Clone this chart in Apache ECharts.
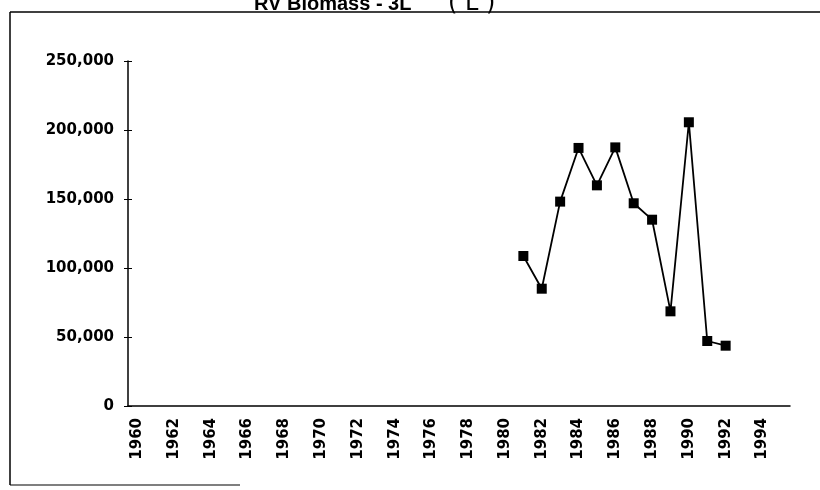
<!DOCTYPE html>
<html>
<head>
<meta charset="utf-8">
<script src="https://cdn.jsdelivr.net/npm/echarts@6/dist/echarts.min.js"></script>
<style>html,body{margin:0;padding:0;background:#fff;}#c{width:820px;height:490px;}</style>
</head>
<body>
<div id="c"></div>
<script>
var years = [];
for (var y = 1960; y <= 1995; y++) years.push(String(y));
var dataYears = ['1981','1982','1983','1984','1985','1986','1987','1988','1989','1990','1991','1992'];
var biomass = [108700, 85000, 148100, 187000, 159900, 187400, 146900, 135000, 68600, 205600, 47100, 43700];
var yTicks = [0, 50000, 100000, 150000, 200000, 250000];
var titleText = 'RV Biomass - 3L';
var noteText = '( L )';

var seriesData = years.map(function (yr) {
  var i = dataYears.indexOf(yr);
  return i >= 0 ? biomass[i] : null;
});

var chart = echarts.init(document.getElementById('c'), null, {renderer: 'canvas'});
var lbl = {fontFamily: 'DejaVu Sans', fontWeight: 'bold', fontSize: 15, color: '#000'};
chart.setOption({
  animation: false,
  backgroundColor: '#fff',
  title: [{
    text: titleText,
    left: 249, top: -11,
    textStyle: {fontFamily: 'Liberation Sans, Arial', fontWeight: 'bold', fontSize: 20, color: '#000'}
  }, {
    text: noteText,
    left: 443, top: -13,
    textStyle: {fontFamily: 'DejaVu Sans', fontWeight: 'normal', fontSize: 24, color: '#000'}
  }],
  graphic: [
    {type: 'line', shape: {x1: 10, y1: 12, x2: 820, y2: 12}, style: {stroke: '#000', lineWidth: 1.5}},
    {type: 'line', shape: {x1: 10, y1: 12, x2: 10, y2: 485}, style: {stroke: '#000', lineWidth: 1.5}},
    {type: 'line', shape: {x1: 10, y1: 485, x2: 240, y2: 485}, style: {stroke: '#000', lineWidth: 1.2}}
  ],
  grid: {left: 128, right: 30, top: 61, bottom: 84},
  xAxis: [{
    type: 'category', data: years, boundaryGap: true,
    axisLine: {lineStyle: {color: '#000', width: 1.5}},
    axisTick: {interval: 0, length: 4, lineStyle: {color: '#000'}},
    axisLabel: Object.assign({interval: 1, rotate: 90, margin: 12}, lbl)
  }, {
    type: 'category', data: years, boundaryGap: true, position: 'bottom',
    axisLine: {show: false},
    axisTick: {interval: 0, inside: true, length: 4, lineStyle: {color: '#000'}},
    axisLabel: {show: false}
  }],
  yAxis: [{
    type: 'value', min: 0, max: 250000, interval: 50000,
    splitLine: {show: false},
    axisLine: {show: true, lineStyle: {color: '#000', width: 1.5}},
    axisTick: {show: true, length: 4, lineStyle: {color: '#000'}},
    axisLabel: Object.assign({margin: 14, formatter: function (v) {
      return yTicks.indexOf(v) >= 0 ? v.toLocaleString('en-US') : '';
    }}, lbl)
  }, {
    type: 'value', min: 0, max: 250000, interval: 50000, position: 'left',
    splitLine: {show: false},
    axisLine: {show: false},
    axisTick: {show: true, inside: true, length: 4, lineStyle: {color: '#000'}},
    axisLabel: {show: false}
  }],
  series: [{
    type: 'line', data: seriesData, connectNulls: false,
    symbol: 'rect', symbolSize: 10, showSymbol: true,
    lineStyle: {color: '#000', width: 1.8},
    itemStyle: {color: '#000'}
  }]
});
</script>
</body>
</html>
